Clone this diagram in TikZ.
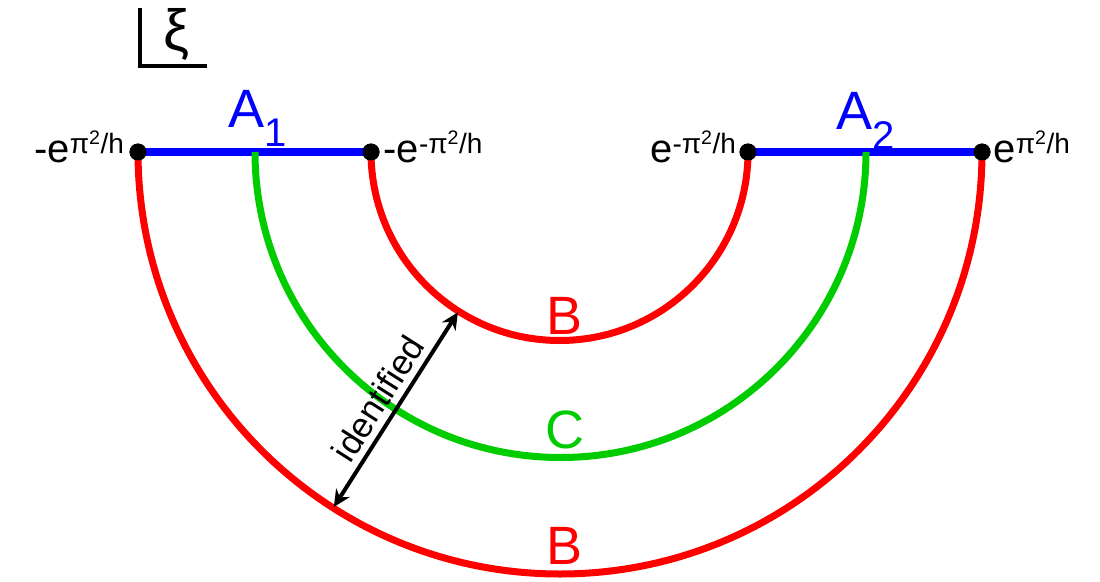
\documentclass[tikz,border=0pt]{standalone}
\usepackage{fontspec}
\setmainfont{Liberation Sans}
\usetikzlibrary{arrows.meta,calc}
\definecolor{myred}{RGB}{255,0,0}
\definecolor{mygreen}{RGB}{0,204,0}
\definecolor{myblue}{RGB}{0,0,255}
\begin{document}
\begin{tikzpicture}[x=1pt,y=-1pt,
  dot/.style={circle,fill=black,inner sep=0pt,minimum size=17pt},
  arcred/.style={myred,line width=7pt},
  arcgreen/.style={mygreen,line width=7pt},
  seg/.style={myblue,line width=8pt},
  lbl/.style={font=\fontsize{40}{40}\selectfont},
  big/.style={font=\fontsize{54}{54}\selectfont}]
\useasboundingbox (0,0) rectangle (1100,581);
\node[dot] (p1) at (138,152) {};
\node[dot] (p2) at (371,152) {};
\node[dot] (p3) at (748,152) {};
\node[dot] (p4) at (982,152) {};
\coordinate (c) at (560,152);
\draw[seg] (p1.center) -- (p2.center);
\draw[seg] (p3.center) -- (p4.center);
\draw[arcred] (p1.center) arc[start angle=180,end angle=0,radius=422];
\draw[arcgreen] (255,152) arc[start angle=180,end angle=0,radius=305.5];
\draw[arcred] (p2.center) arc[start angle=180,end angle=0,radius=188.5];
\node[dot] at (p1) {};\node[dot] at (p2) {};\node[dot] at (p3) {};\node[dot] at (p4) {};
\node[lbl,anchor=east] at (128,147) {-e\textsuperscript{π\textsuperscript{2}/h}};
\node[lbl,anchor=west] at (380,147) {-e\textsuperscript{-π\textsuperscript{2}/h}};
\node[lbl,anchor=east] at (740,147) {e\textsuperscript{-π\textsuperscript{2}/h}};
\node[lbl,anchor=west] at (990,147) {e\textsuperscript{π\textsuperscript{2}/h}};
\node[big,myblue] (a1) at (258,118) {A\textsubscript{\fontsize{40}{40}\selectfont 1}};
\node[big,myblue] (a2) at (866,121) {A\textsubscript{\fontsize{40}{40}\selectfont 2}};
\node[big,myred] (b1) at (565,316) {B};
\node[big,mygreen] (cc) at (565,430) {C};
\node[big,myred] (b2) at (565,546) {B};
\coordinate (i1) at ($(c)+(122.5:190)$);
\coordinate (i2) at ($(c)+(122.5:421)$);
\draw[line width=4pt,{Stealth[length=17pt,width=16pt]}-{Stealth[length=17pt,width=16pt]}] (i2) -- (i1)
  node[midway,sloped,above=3pt,font=\fontsize{35}{35}\selectfont] {identified};
\draw[line width=4pt] (140,8) -- (140,66) -- (207,66);
\node[font=\fontsize{58}{58}\selectfont] (xi) at (176,34) {ξ};
\end{tikzpicture}
\end{document}
